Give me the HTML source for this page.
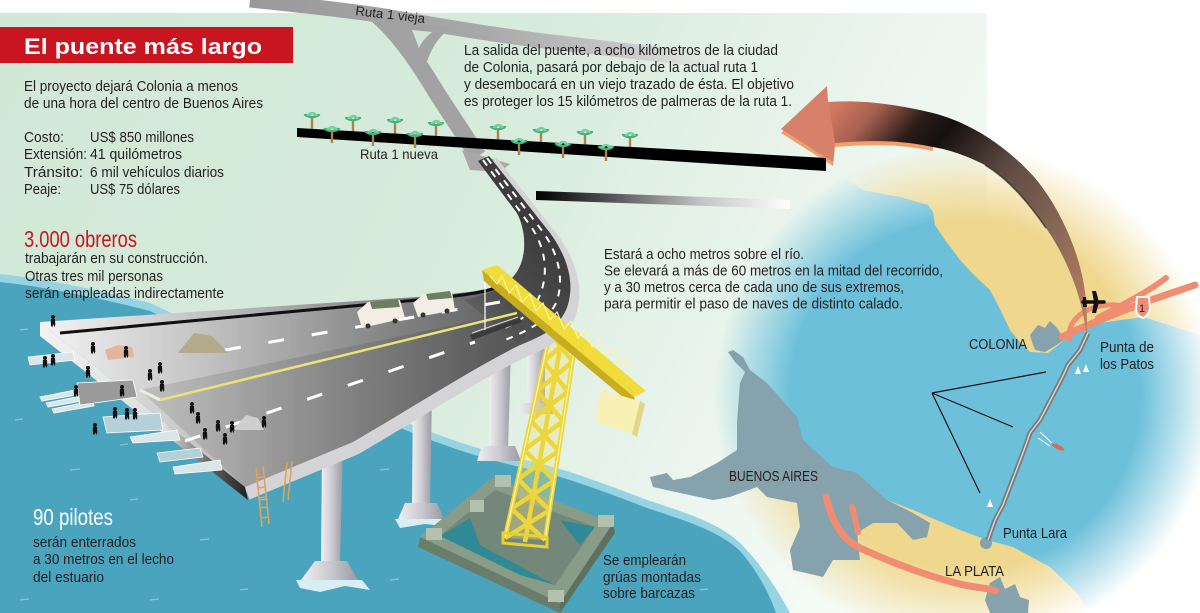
<!DOCTYPE html>
<html><head><meta charset="utf-8">
<style>
html,body{margin:0;padding:0;background:#fff;overflow:hidden;width:1200px;height:613px;}
svg{display:block;}
text{font-family:"Liberation Sans",Arial,sans-serif;}
</style></head><body>
<svg width="1200" height="613" viewBox="0 0 1200 613" xmlns="http://www.w3.org/2000/svg">
<defs>
 <linearGradient id="bg" x1="0" y1="0" x2="990" y2="480" gradientUnits="userSpaceOnUse">
  <stop offset="0" stop-color="#d2e8d7"/><stop offset="0.45" stop-color="#d6ebdb"/>
  <stop offset="0.75" stop-color="#ebf5ee"/><stop offset="1" stop-color="#fafdfb"/>
 </linearGradient>
 <radialGradient id="fade" cx="965" cy="395" r="250" gradientUnits="userSpaceOnUse">
  <stop offset="0.7" stop-color="#fff"/><stop offset="1" stop-color="#000"/>
 </radialGradient>
 <mask id="mm" maskUnits="userSpaceOnUse" x="0" y="0" width="1200" height="613">
  <rect width="1200" height="613" fill="url(#fade)"/>
 </mask>
 <linearGradient id="deck" x1="40" y1="0" x2="570" y2="0" gradientUnits="userSpaceOnUse">
  <stop offset="0" stop-color="#f4f4f4"/><stop offset="0.3" stop-color="#c4c4c4"/>
  <stop offset="0.6" stop-color="#8e8e8e"/><stop offset="0.85" stop-color="#666"/><stop offset="1" stop-color="#555"/>
 </linearGradient>
 <linearGradient id="ramp" x1="545" y1="235" x2="455" y2="335" gradientUnits="userSpaceOnUse">
  <stop offset="0" stop-color="#3c3c3c" stop-opacity="1"/><stop offset="0.55" stop-color="#4a4a4a" stop-opacity="0.85"/>
  <stop offset="1" stop-color="#555" stop-opacity="0"/>
 </linearGradient>
 <linearGradient id="leftface" x1="40" y1="0" x2="248" y2="0" gradientUnits="userSpaceOnUse">
  <stop offset="0" stop-color="#f2f2f2"/><stop offset="0.6" stop-color="#dcdcdc"/>
  <stop offset="0.85" stop-color="#555"/><stop offset="1" stop-color="#222"/>
 </linearGradient>
 <linearGradient id="pil" x1="0" y1="0" x2="1" y2="0">
  <stop offset="0" stop-color="#f0f0f3"/><stop offset="0.5" stop-color="#cacad0"/><stop offset="1" stop-color="#9a9aa3"/>
 </linearGradient>
 <linearGradient id="arr" x1="830" y1="110" x2="1087" y2="333" gradientUnits="userSpaceOnUse">
  <stop offset="0" stop-color="#d27a62"/><stop offset="0.1" stop-color="#a86050"/>
  <stop offset="0.22" stop-color="#2a1c18"/><stop offset="0.3" stop-color="#151010"/>
  <stop offset="0.5" stop-color="#5e4a42"/><stop offset="0.75" stop-color="#8a6a58"/><stop offset="1" stop-color="#c08060"/>
 </linearGradient>
 <linearGradient id="bar" x1="536" y1="0" x2="790" y2="0" gradientUnits="userSpaceOnUse">
  <stop offset="0" stop-color="#000"/><stop offset="0.3" stop-color="#555"/>
  <stop offset="0.65" stop-color="#c4c4c4"/><stop offset="1" stop-color="#fff"/>
 </linearGradient>
 <linearGradient id="vieja" x1="250" y1="0" x2="720" y2="60" gradientUnits="userSpaceOnUse">
  <stop offset="0" stop-color="#9a9a9a"/><stop offset="0.5" stop-color="#a8a8a8"/>
  <stop offset="0.8" stop-color="#c8c8c8"/><stop offset="1" stop-color="#e6efe8"/>
 </linearGradient>
 <g id="palm">
  <rect x="-1.2" y="0" width="2.4" height="13" fill="#a8864a"/>
  <ellipse cx="-4" cy="0" rx="4.5" ry="1.6" transform="rotate(20 -4 0)" fill="#43b57c"/>
  <ellipse cx="4" cy="0" rx="4.5" ry="1.6" transform="rotate(-20 4 0)" fill="#43b57c"/>
  <ellipse cx="-2" cy="-2" rx="3.5" ry="1.5" transform="rotate(-30 -2 -2)" fill="#6fd3a0"/>
  <ellipse cx="2.5" cy="-2" rx="3.5" ry="1.5" transform="rotate(30 2.5 -2)" fill="#6fd3a0"/>
 </g>
 <g id="pp" fill="#111">
  <circle cx="0" cy="-10" r="2"/>
  <path d="M-2,-8 L2,-8 L2.3,-2 L1.2,0 L0.3,-3 L-0.6,0 L-2,-1 L-2.2,-6 Z"/>
 </g>
</defs>

<rect width="1200" height="613" fill="#fff"/>
<rect x="0" y="13" width="987" height="600" fill="url(#bg)"/>

<!-- MAP -->
<g mask="url(#mm)">
 <rect x="700" y="140" width="500" height="473" fill="#6cc0da"/>
 <path d="M830,140 L1200,140 L1200,335 L1183,330 L1172,326 L1143,317 L1100,323 L1075,330 L1062,342 L1048,353 L1030,352 L1018,340 L1010,330 L998,305 L990,290 L975,276 L960,260 L945,240 L935,225 L933,212 L928,205 L900,197 L863,190 L845,178 Z" fill="#efd78e"/>
 <path d="M740,468 L857,473 L887,500 L913,510 L960,530 L987,540 L1013,547 L1050,567 L1077,593 L1090,613 L740,613 Z" fill="#efd78e"/>
</g>
<!-- Buenos Aires -->
<path d="M733,350 L743,357 L750,370 L767,383 L797,417 L803,440 L833,467 L857,473 L887,500 L913,513 L930,523 L927,537 L913,540 L897,523 L873,523 L857,533 L860,560 L833,560 L823,577 L793,570 L790,550 L800,527 L797,503 L767,497 L757,487 L730,497 L713,500 L680,493 L653,487 L650,477 L667,473 L673,480 L690,477 L700,472 L717,463 L737,450 L737,423 L740,383 L745,372 L735,362 L728,352 Z" fill="#86a2ad"/>
<path d="M1030,335 L1038,325 L1045,328 L1050,321 L1058,329 L1064,340 L1055,346 L1045,352 L1035,350 L1032,342 Z" fill="#86a2ad"/>
<path d="M990,583 L1000,577 L1005,589 L1015,584 L1020,597 L1029,600 L1028,613 L990,613 L985,600 Z" fill="#86a2ad"/>
<circle cx="986" cy="543" r="6" fill="#86a2ad"/>
<!-- roads map -->
<g fill="none" stroke="#f08c72" stroke-linecap="round">
 <path d="M826,497 C832,520 840,538 860,548 C890,562 930,577 960,584 C975,588 990,588 996,591" stroke-width="7"/>
 <path d="M852,507 C855,515 856,525 858,532" stroke-width="6"/>
 <path d="M1062,337 C1080,328 1100,320 1130,308 C1155,298 1175,292 1195,285" stroke-width="7"/>
 <path d="M1098,318 C1122,305 1148,292 1166,278" stroke-width="6"/>
 <path d="M1070,340 C1066,324 1080,310 1100,306 C1115,303 1125,306 1132,309" stroke-width="5"/>
</g>
<path d="M1137,297 L1149,297 L1150,309 C1149,314 1145,317 1143,318 C1140,317 1136,314 1136,309 Z" fill="#f08c72" stroke="#fff" stroke-width="2"/>
<text x="1139" y="312" font-size="11" fill="#222">1</text>
<!-- bridge on map -->
<path d="M1088,333 L1080,350 L1068,365 L1062,378 L1040,420 L1030,433 L1024,450 L1003,505 L995,520 L988,540" fill="none" stroke="#7b7b7b" stroke-width="5"/>
<path d="M1088,333 L1080,350 L1068,365 L1062,378 L1040,420 L1030,433 L1024,450 L1003,505 L995,520 L988,540" fill="none" stroke="#d8d8d8" stroke-width="1.4"/>
<g stroke="#111" stroke-width="1.2" fill="none">
 <path d="M932,393 L1046,372 M932,393 L1013,427 M932,393 L980,493"/>
</g>
<g fill="#fff"><path d="M1078,366 L1081,374 L1075,374 Z"/><path d="M1086,364 L1089,372 L1083,372 Z"/><path d="M990,499 L993,507 L987,507 Z"/></g>
<ellipse cx="1058" cy="447" rx="7" ry="2.3" transform="rotate(25 1058 447)" fill="#d0705a"/>
<path d="M1040,432 L1052,443 M1038,438 L1050,446" stroke="#fff" stroke-width="1"/>

<!-- ARROW -->
<path transform="translate(0,4)" d="M781,129 L827,86 L828,102 C860,100 890,103 933,113 L933,147 C900,140 870,140 835,143 L833,162 Z" fill="#f2a06a"/>
<path d="M828,102 C860,100 890,103 933,113 C975,124 1010,150 1035,178 C1060,208 1078,250 1084,285 C1087,305 1087,320 1087,333 L1086,333 C1084,315 1080,300 1076,288 C1068,265 1058,245 1046,228 C1030,205 1010,180 985,165 C965,155 950,150 933,147 C900,140 870,140 835,143 Z" fill="url(#arr)"/>
<path d="M985,165 C1010,180 1030,205 1046,228" fill="none" stroke="#111" stroke-width="1.5" opacity="0.6"/>
<path d="M781,129 L827,86 L828,102 L835,143 L833,162 Z" fill="#d7806a"/>
<!-- plane -->
<path d="M1083,302 L1104,302" stroke="#111" stroke-width="3.5" stroke-linecap="round"/>
<path d="M1092,291 L1096,291 L1099,302 L1096,313 L1092,313 L1094,302 Z" fill="#111"/>
<path d="M1083,297 L1086,297 L1087,307 L1083,307 Z" fill="#111"/>

<!-- ESTUARY WATER -->
<path d="M0,274 C40,278 100,290 150,303 L380,411 C440,438 490,453 530,461 C570,470 610,486 650,501 C690,514 720,524 740,543 C760,563 778,590 790,613 L0,613 Z" fill="#97d4e3"/>
<path transform="translate(0,8)" d="M0,274 C40,278 100,290 150,303 L380,411 C440,438 490,453 530,461 C570,470 610,486 650,501 C690,514 720,524 740,543 C755,560 768,582 776,605 L0,605 Z" fill="#4ba4be"/>
<g stroke="#9fd5e3" stroke-width="1.2" opacity="0.7">
 <path d="M20,330 l8,-1 M60,360 l9,-1 M15,420 l8,-1 M70,470 l10,-1 M130,500 l8,-1 M200,540 l9,-1 M240,590 l8,-1 M150,600 l9,-1 M260,500 l8,-1 M380,470 l9,-1 M430,520 l8,-1 M390,580 l9,-1 M640,560 l9,-1 M700,590 l8,-1 M20,600 l9,-1 M120,445 l8,-1"/>
</g>

<!-- RUTA 1 VIEJA -->
<path d="M250,0 C300,5 345,10 385,16 C440,26 500,36 560,43 C620,50 680,57 725,62" fill="none" stroke="url(#vieja)" stroke-width="15"/>
<path d="M378,16 C400,35 418,62 438,95 L478,156" fill="none" stroke="#a2a2a2" stroke-width="17"/>
<path d="M395,20 L450,28 C435,40 428,55 425,70 Z" fill="#a2a2a2"/>
<path d="M412,30 L432,32 C425,38 421,43 419,48 Z" fill="#cfe6d4"/>
<path d="M462,150 L510,164 L500,172 L470,170 Z" fill="#a8a8a8"/>
<text x="355" y="15" font-size="13" fill="#222" transform="rotate(6.6 355 15)" textLength="70" lengthAdjust="spacingAndGlyphs">Ruta 1 vieja</text>

<!-- RUTA 1 NUEVA -->
<use href="#palm" x="312" y="116"/><use href="#palm" x="353" y="119"/><use href="#palm" x="395" y="121"/>
<use href="#palm" x="436" y="124"/><use href="#palm" x="498" y="128"/><use href="#palm" x="541" y="131"/>
<use href="#palm" x="585" y="133"/><use href="#palm" x="630" y="136"/>
<path d="M297,128 L826,158 L826,171 L297,137 Z" fill="#000"/>
<use href="#palm" x="332" y="130"/><use href="#palm" x="373" y="133"/><use href="#palm" x="415" y="135"/>
<use href="#palm" x="519" y="142"/><use href="#palm" x="563" y="145"/><use href="#palm" x="606" y="148"/>
<text x="360" y="159" font-size="14" fill="#231f20" textLength="78" lengthAdjust="spacingAndGlyphs">Ruta 1 nueva</text>
<path d="M536,191 L790,200 L790,209 L536,200 Z" fill="url(#bar)"/>

<!-- PILLARS -->
<g fill="url(#pil)">
 <path d="M527,338 L545,336 L545,405 L527,405 Z"/><path d="M522,403 L550,403 L553,414 L518,414 Z"/>
 <path d="M490,350 L511,347 L508,448 L489,448 Z"/><path d="M482,446 L515,446 L521,461 L477,461 Z"/>
 <path d="M413,395 L432,392 L430,505 L412,505 Z"/><path d="M405,503 L437,503 L444,519 L398,519 Z"/>
 <path d="M322,445 L343,440 L340,563 L321,563 Z"/><path d="M315,561 L347,561 L358,580 L301,580 Z"/>
</g>
<path d="M296,580 L362,580 L370,590 L345,586 L320,592 L300,588 Z" fill="#d6eef4"/>
<path d="M395,519 L447,519 L452,527 L425,524 L400,528 Z" fill="#d6eef4"/>

<!-- BARGE -->
<path d="M420,537 L560,603 L560,613 L418,547 Z" fill="#6a7c6a"/>
<path d="M560,603 L613,523 L615,533 L560,613 Z" fill="#5e705e"/>
<path d="M420,537 L493,477 L613,523 L560,603 Z" fill="#889c87"/>
<path d="M440,536 L495,490 L595,527 L555,585 Z" fill="#73887a"/>
<path d="M440,536 L470,518 L480,545 L555,585 L520,575 Z" fill="#2f8a96"/>
<path d="M560,520 L595,527 L580,545 Z" fill="#2f8a96"/>
<g fill="#b3c1ae"><rect x="495" y="475" width="16" height="12"/><rect x="426" y="528" width="16" height="12"/><rect x="598" y="515" width="16" height="12"/><rect x="548" y="590" width="16" height="12"/><rect x="470" y="500" width="14" height="12"/></g>

<!-- CRANE TOWER -->
<path d="M505,538 L550,332 L577,332 L545,540 Z" fill="#f3e67a" opacity="0.35"/>
<g stroke="#ecd63a" stroke-width="4.5" fill="none" stroke-linejoin="round">
 <path d="M505,538 L550,332 M545,540 L577,332 M525,542 L563,332"/>
 <path d="M505,538 L549.6,510.3 L517.9,479.1 L558.7,450.8 L530.7,420.4 L567.9,391.5 L543.6,361.4 L577,332"/>
 <path d="M545,540 L511.4,508.6 L554.1,480.6 L524.3,449.6 L563.3,421.2 L537.1,390.9 L572.4,361.7 L550,332"/>
</g>
<g stroke="#fbf4b0" stroke-width="1.2" fill="none">
 <path d="M505,538 L550,332 M545,540 L577,332"/>
</g>
<path d="M503,533 L547,537 L547,547 L503,543 Z" fill="none" stroke="#e8d030" stroke-width="3"/>

<!-- DECK -->
<path d="M489,156 L550,233 C568,258 576,285 566,310 C556,330 542,336 520,345 C470,370 400,415 353,442 L245,487" fill="none" stroke="#d4d4d6" stroke-width="14" transform="translate(2,6)"/>
<path d="M40,322 L245,487 L248,500 L40,336 Z" fill="url(#leftface)"/>
<path d="M40,322 L417,297 C465,293 500,290 512,278 C528,262 527,232 517,213 L478,161 L489,156 L550,233 C568,258 576,285 566,310 C556,330 542,336 520,345 C470,370 400,415 353,442 L245,487 Z" fill="url(#deck)"/>
<path d="M140,390 L517,312 C530,322 528,335 520,345 C470,370 400,415 353,442 L245,487 Z" fill="#000" opacity="0.1"/>
<path d="M478,161 L489,156 L550,233 C568,258 576,285 566,310 C556,330 542,336 520,345 L465,300 C495,292 505,288 512,278 C528,262 527,232 517,213 Z" fill="url(#ramp)"/>
<path d="M60,333 L417,300 C460,296 495,292 508,282" fill="none" stroke="#111" stroke-width="3"/>
<path d="M160,400 L517,313" stroke="#ece27a" stroke-width="2.5"/>
<path d="M140,390 L160,400" stroke="#e8f0e0" stroke-width="3"/>
<g fill="none" stroke="#fff" stroke-width="3">
 <path d="M185,441 L475,342" stroke-dasharray="16 27"/>
 <path d="M225,350 L500,302" stroke-dasharray="16 28"/>
</g>
<g fill="none" stroke="#fff" stroke-width="2">
 <path d="M483,160 L532,228 C545,248 549,272 540,295 C533,312 520,322 500,330" stroke-dasharray="7 7"/>
 <path d="M487,158 L543,232 C558,253 565,280 556,303 C548,320 530,330 505,340" stroke-dasharray="7 7"/>
</g>
<line x1="485" y1="280" x2="485" y2="335" stroke="#fff" stroke-width="1.2"/>
<path d="M470,335 L520,318 L522,322 L472,340 Z" fill="#3a3a3a"/>
<path d="M472,333 L518,317" stroke="#ddd" stroke-width="1"/>

<!-- left fingers -->
<g fill="#dbe6e8" stroke="#fff" stroke-width="0.8">
 <path d="M28,357 L73,352 L75,360 L30,365 Z"/>
 <path d="M40,397 L80,389 L82,394 L42,401 Z"/><path d="M46,403 L86,395 L88,400 L48,407 Z"/><path d="M52,409 L92,401 L94,406 L54,413 Z"/>
 <path d="M77,383 L133,380 L137,397 L80,405 Z" fill="#9a9a9a"/>
 <path d="M103,417 L160,413 L163,430 L107,433 Z" fill="#b4d0d8"/>
 <path d="M130,437 L177,430 L180,440 L133,443 Z"/>
 <path d="M157,453 L200,448 L203,457 L160,462 Z" fill="#b4d0d8"/>
 <path d="M173,467 L220,460 L222,470 L175,474 Z"/>
</g>

<!-- trucks, piles -->
<path d="M178,353 L194,333 L212,336 L228,353 Z" fill="#b3ab8b"/>
<path d="M233,430 L246,415 L258,418 L264,430 Z" fill="#cfcfcf"/>
<g>
 <path d="M357,312 L368,302 L400,300 L405,318 L362,328 Z" fill="#f2eee6"/>
 <path d="M370,302 L398,299 L400,307 L372,309 Z" fill="#6e7e60"/>
 <path d="M413,303 L424,294 L452,292 L455,310 L418,317 Z" fill="#f2eee6"/>
 <path d="M426,294 L450,291 L452,298 L428,300 Z" fill="#6e7e60"/>
 <g fill="#333"><circle cx="368" cy="326" r="2.5"/><circle cx="395" cy="321" r="2.5"/><circle cx="423" cy="315" r="2.5"/><circle cx="447" cy="311" r="2.5"/></g>
</g>
<path d="M105,350 L118,345 L132,347 L134,357 L108,360 Z" fill="#e4b49e"/>

<!-- people -->
<g>
 <use href="#pp" x="53" y="327"/><use href="#pp" x="93" y="354"/><use href="#pp" x="126" y="358"/>
 <use href="#pp" x="88" y="378"/><use href="#pp" x="53" y="366"/><use href="#pp" x="45" y="368"/>
 <use href="#pp" x="76" y="397"/><use href="#pp" x="122" y="397"/><use href="#pp" x="150" y="381"/>
 <use href="#pp" x="162" y="392"/><use href="#pp" x="115" y="419"/><use href="#pp" x="127" y="420"/>
 <use href="#pp" x="135" y="420"/><use href="#pp" x="95" y="435"/><use href="#pp" x="192" y="414"/>
 <use href="#pp" x="198" y="424"/><use href="#pp" x="205" y="440"/><use href="#pp" x="218" y="432"/>
 <use href="#pp" x="225" y="445"/><use href="#pp" x="264" y="428"/><use href="#pp" x="232" y="433"/>
 <use href="#pp" x="160" y="374"/>
</g>
<!-- ladders -->
<g stroke="#e2a257" stroke-width="1.6">
 <path d="M256,468 L262,527 M263,466 L269,524 M257,478 L264,477 M258,488 L265,487 M259,498 L266,497 M260,508 L267,507 M261,518 L268,517"/>
 <path d="M287,462 L283,502 M292,461 L288,500"/>
</g>

<!-- BOOM -->
<path d="M482,270 L497,265 L646,391 L634,397 Z" fill="#f0dc3a"/>
<path d="M482,270 L634,397 L637,409 L484,281 Z" fill="#c8ad1e"/>
<path d="M490,276 L497,284 L502,276 L509,293 L516,285 L522,302 L530,294 L536,311 L543,303 L550,320 L557,312 L564,329 L571,321 L578,338 L585,330 L592,347 L599,339 L606,356 L613,348 L620,365 L627,357 L632,372" fill="none" stroke="#fff4a0" stroke-width="1.2"/>
<path d="M600,390 L640,401 L632,434 L596,422 Z" fill="#f8f0b4"/>
<path d="M640,401 L645,404 L637,437 L632,434 Z" fill="#e2d68c"/>

<!-- TEXT LEFT -->
<rect x="0" y="27" width="293" height="36" fill="#c8151f"/>
<text x="24" y="54" font-size="22" font-weight="bold" fill="#fff" textLength="238" lengthAdjust="spacingAndGlyphs">El puente más largo</text>
<g font-size="14.5" fill="#231f20">
 <text x="24" y="91" textLength="214" lengthAdjust="spacingAndGlyphs">El proyecto dejará Colonia a menos</text>
 <text x="24" y="108" textLength="239" lengthAdjust="spacingAndGlyphs">de una hora del centro de Buenos Aires</text>
 <text x="24" y="142" textLength="40" lengthAdjust="spacingAndGlyphs">Costo:</text>
 <text x="90" y="142" textLength="104" lengthAdjust="spacingAndGlyphs">US$ 850 millones</text>
 <text x="24" y="159" textLength="63" lengthAdjust="spacingAndGlyphs">Extensión:</text>
 <text x="90" y="159" textLength="92" lengthAdjust="spacingAndGlyphs">41 quilómetros</text>
 <text x="24" y="177" textLength="59" lengthAdjust="spacingAndGlyphs">Tránsito:</text>
 <text x="90" y="177" textLength="134" lengthAdjust="spacingAndGlyphs">6 mil vehículos diarios</text>
 <text x="24" y="194" textLength="37" lengthAdjust="spacingAndGlyphs">Peaje:</text>
 <text x="90" y="194" textLength="90" lengthAdjust="spacingAndGlyphs">US$ 75 dólares</text>
 <text x="25" y="263" textLength="183" lengthAdjust="spacingAndGlyphs">trabajarán en su construcción.</text>
 <text x="25" y="281" textLength="138" lengthAdjust="spacingAndGlyphs">Otras tres mil personas</text>
 <text x="25" y="298" textLength="199" lengthAdjust="spacingAndGlyphs">serán empleadas indirectamente</text>
</g>
<text x="24" y="247" font-size="23" fill="#c8151f" textLength="113" lengthAdjust="spacingAndGlyphs">3.000 obreros</text>

<!-- TEXT TOP RIGHT -->
<g font-size="14.5" fill="#231f20">
 <text x="464" y="55" textLength="314" lengthAdjust="spacingAndGlyphs">La salida del puente, a ocho kilómetros de la ciudad</text>
 <text x="464" y="72" textLength="294" lengthAdjust="spacingAndGlyphs">de Colonia, pasará por debajo de la actual ruta 1</text>
 <text x="464" y="89" textLength="330" lengthAdjust="spacingAndGlyphs">y desembocará en un viejo trazado de ésta. El objetivo</text>
 <text x="464" y="106" textLength="328" lengthAdjust="spacingAndGlyphs">es proteger los 15 kilómetros de palmeras de la ruta 1.</text>
 <text x="604" y="259" textLength="200" lengthAdjust="spacingAndGlyphs">Estará a ocho metros sobre el río.</text>
 <text x="604" y="275.5" textLength="339" lengthAdjust="spacingAndGlyphs">Se elevará a más de 60 metros en la mitad del recorrido,</text>
 <text x="604" y="292" textLength="300" lengthAdjust="spacingAndGlyphs">y a 30 metros cerca de cada uno de sus extremos,</text>
 <text x="604" y="308.5" textLength="299" lengthAdjust="spacingAndGlyphs">para permitir el paso de naves de distinto calado.</text>
 <text x="603" y="565" textLength="83" lengthAdjust="spacingAndGlyphs">Se emplearán</text>
 <text x="603" y="582" textLength="98" lengthAdjust="spacingAndGlyphs">grúas montadas</text>
 <text x="603" y="598" textLength="92" lengthAdjust="spacingAndGlyphs">sobre barcazas</text>
 <text x="33" y="547" textLength="103" lengthAdjust="spacingAndGlyphs">serán enterrados</text>
 <text x="33" y="564" textLength="141" lengthAdjust="spacingAndGlyphs">a 30 metros en el lecho</text>
 <text x="33" y="582" textLength="71" lengthAdjust="spacingAndGlyphs">del estuario</text>
 <text x="969" y="349" textLength="58" lengthAdjust="spacingAndGlyphs">COLONIA</text>
 <text x="1100" y="352" textLength="54" lengthAdjust="spacingAndGlyphs">Punta de</text>
 <text x="1100" y="369" textLength="54" lengthAdjust="spacingAndGlyphs">los Patos</text>
 <text x="729" y="481" textLength="89" lengthAdjust="spacingAndGlyphs">BUENOS AIRES</text>
 <text x="1003" y="538" textLength="64" lengthAdjust="spacingAndGlyphs">Punta Lara</text>
 <text x="945" y="576" textLength="59" lengthAdjust="spacingAndGlyphs">LA PLATA</text>
</g>
<text x="33" y="525" font-size="23" fill="#fff" textLength="80" lengthAdjust="spacingAndGlyphs">90 pilotes</text>
</svg>
</body></html>
